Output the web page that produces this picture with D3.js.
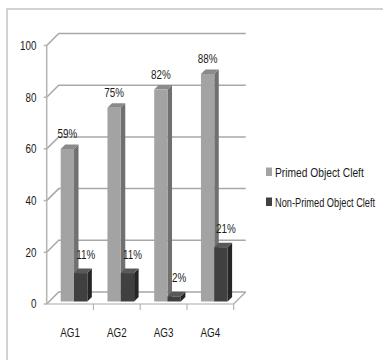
<!DOCTYPE html>
<html>
<head>
<meta charset="utf-8">
<script src="https://cdn.jsdelivr.net/npm/d3@7/dist/d3.min.js"></script>
<style>
  html, body { margin: 0; padding: 0; background: #fff; }
  svg { display: block; }
  text { font-family: "Liberation Sans", Arial, sans-serif; fill: #1a1a1a; }
</style>
</head>
<body>
<svg id="chart" width="383" height="360"></svg>
<script>
// Chart data
const categories = ["AG1", "AG2", "AG3", "AG4"];
const seriesNames = ["Primed Object Cleft", "Non-Primed Object Cleft"];
const primedValues = [59, 75, 82, 88];
const nonPrimedValues = [11, 11, 2, 21];
const yTicks = [0, 20, 40, 60, 80, 100];

const series = [
  { name: seriesNames[0], values: primedValues,    front: "#a3a3a3", side: "#707070", top: "#8a8a8a", labelDx: 0, labelGap: 6.5, legendScale: 0.82 },
  { name: seriesNames[1], values: nonPrimedValues, front: "#404040", side: "#262626", top: "#595959", labelDx: 5, labelGap: 9.5, legendScale: 0.74 }
];

// Condensed type: horizontally squeezed sans
const narrow = 0.82;
function addText(parent, px, py, str, size, anchor, sx) {
  return parent.append("text")
    .attr("transform", `translate(${px},${py}) scale(${sx || narrow},1)`)
    .attr("font-size", size)
    .attr("text-anchor", anchor || "start")
    .text(str);
}

const svg = d3.select("#chart");

// Outer frame (right and bottom edges lie outside the viewport)
svg.append("rect")
  .attr("x", 7).attr("y", 9).attr("width", 400).attr("height", 380)
  .attr("fill", "#fff").attr("stroke", "#c4c4c4").attr("stroke-width", 1.5);

// Plot geometry: front plane of the 3-D box and depth offset to the back wall
const x0 = 46.7, x1 = 233.7;
const depth = 12;
const barDepthStart = 2.5, barDepth = 4.5;

const y = d3.scaleLinear().domain([0, 100]).range([304, 45.5]);
const x = d3.scaleBand().domain(categories).range([x0, x1]).paddingInner(0).paddingOuter(0);
const xs = d3.scaleBand().domain(d3.range(series.length))
  .range([0, x.bandwidth() * 0.57]);
const barOffset = 14 - barDepthStart;

const grid = svg.append("g");
const gridColor = "#a8a8a8";

// Gridlines: diagonal on the side wall, then across the back wall
yTicks.forEach(t => {
  const yf = y(t);
  grid.append("path")
    .attr("d", d3.line()([[x0, yf], [x0 + depth, yf - depth], [x1 + depth, yf - depth]]))
    .attr("fill", "none").attr("stroke", gridColor).attr("stroke-width", 1.5);
});

// Floor front edge and right diagonal
grid.append("path")
  .attr("d", d3.line()([[x0, y(0)], [x1, y(0)], [x1 + depth, y(0) - depth]]))
  .attr("fill", "none").attr("stroke", gridColor).attr("stroke-width", 1.2);

// Value axis line and ticks
const axisColor = "#b4b4b4";
grid.append("line")
  .attr("x1", x0).attr("x2", x0).attr("y1", y(100)).attr("y2", y(0))
  .attr("stroke", axisColor).attr("stroke-width", 1.5);
grid.selectAll(".ytick").data(yTicks).enter().append("line")
  .attr("x1", x0 - 3).attr("x2", x0).attr("y1", d => y(d)).attr("y2", d => y(d))
  .attr("stroke", axisColor).attr("stroke-width", 1.5);

// Category axis tick marks
grid.selectAll(".xtick").data(categories).enter().append("line")
  .attr("x1", d => x(d) + x.bandwidth()).attr("x2", d => x(d) + x.bandwidth())
  .attr("y1", y(0)).attr("y2", y(0) + 6)
  .attr("stroke", axisColor).attr("stroke-width", 1.2);

// Value axis labels
yTicks.forEach(t => addText(svg, 36.5, y(t) + 4.3, String(t), 12, "end"));

// Category labels
categories.forEach(c => addText(svg, x(c) + x.bandwidth() / 2, 336.5, c, 12, "middle"));

// 3-D columns
const bars = svg.append("g");
const labels = svg.append("g");
const dd = barDepth;
categories.forEach((c, i) => {
  series.forEach((s, si) => {
    const v = s.values[i];
    const bx = x(c) + barOffset + barDepthStart + xs(si);
    const w = xs.bandwidth();
    const yb = y(0) - barDepthStart;
    const yt = y(v) - barDepthStart;
    // side face
    bars.append("path")
      .attr("d", d3.line()([[bx + w, yt], [bx + w + dd, yt - dd], [bx + w + dd, yb - dd], [bx + w, yb]]) + "Z")
      .attr("fill", s.side);
    // top face
    bars.append("path")
      .attr("d", d3.line()([[bx, yt], [bx + dd, yt - dd], [bx + w + dd, yt - dd], [bx + w, yt]]) + "Z")
      .attr("fill", s.top);
    // front face
    bars.append("rect")
      .attr("x", bx).attr("y", yt).attr("width", w).attr("height", yb - yt)
      .attr("fill", s.front);
    // value label
    addText(labels, bx + w / 2 + s.labelDx, yt - dd - s.labelGap, v + "%", 12, "middle");
  });
});

// Legend
const legend = svg.append("g").attr("transform", "translate(266,0)");
const legendY = [176.5, 206.5];
series.forEach((s, i) => {
  legend.append("rect")
    .attr("x", 0).attr("y", legendY[i] - 9).attr("width", 6).attr("height", 8.5)
    .attr("fill", s.front);
  addText(legend, 9, legendY[i], s.name, 12.5, "start", s.legendScale);
});
</script>
</body>
</html>
